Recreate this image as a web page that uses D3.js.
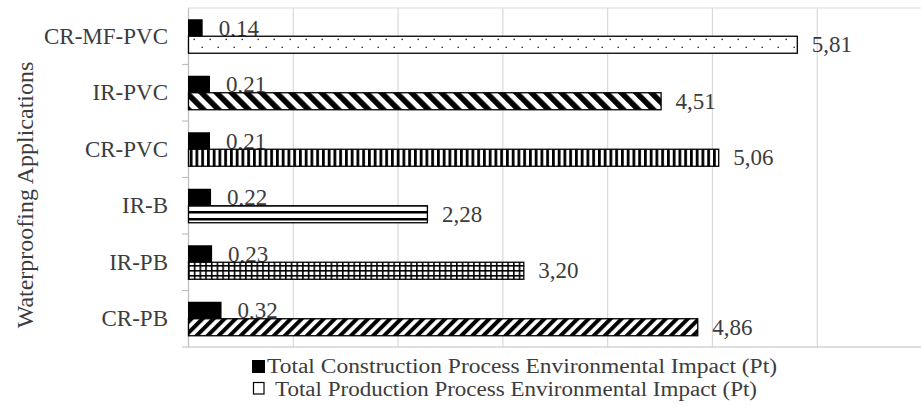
<!DOCTYPE html>
<html>
<head>
<meta charset="utf-8">
<script src="https://cdn.jsdelivr.net/npm/d3@7"></script>
<style>
  html, body { margin: 0; padding: 0; background: #fff; }
  svg { display: block; }
  text { font-family: "Liberation Serif", "Times New Roman", serif; }
</style>
</head>
<body>
<svg id="chart" width="921" height="406"></svg>
<script>
// ---- data ----
const categories = ["CR-MF-PVC", "IR-PVC", "CR-PVC", "IR-B", "IR-PB", "CR-PB"];
const construction = [0.14, 0.21, 0.21, 0.22, 0.23, 0.32];
const production = [5.81, 4.51, 5.06, 2.28, 3.20, 4.86];
const seriesNames = [
  "Total Construction Process Environmental Impact (Pt)",
  "Total Production Process Environmental Impact (Pt)"
];
const xTicks = [0, 1, 2, 3, 4, 5, 6, 7];
const yAxisTitle = "Waterproofing Applications";

// ---- styles (kept separate from data) ----
const patternIds = ["p-dots", "p-diagdown", "p-vert", "p-horiz", "p-grid", "p-diagup"];
const textColor = "#3c3c3c";
const fontSize = 23;

const svg = d3.select("#chart");
const plotLeft = 188, plotRight = 921.5, plotTop = 8, plotBottom = 347;
const x = d3.scaleLinear().domain([0, 7]).range([plotLeft, plotRight]);
const y = d3.scaleBand().domain(categories).range([plotTop, plotBottom]).padding(0);
const barH = 17;
const fmt = d3.formatLocale({ decimal: ",", thousands: ".", grouping: [3], currency: ["", ""] }).format(".2f");

// ---- patterns ----
const defs = svg.append("defs");
let p = defs.append("pattern").attr("id", "p-dots").attr("patternUnits", "userSpaceOnUse")
  .attr("width", 16).attr("height", 16);
p.append("rect").attr("width", 16).attr("height", 16).attr("fill", "#fff");
p.append("rect").attr("x", 1.5).attr("y", 6.7).attr("width", 1.4).attr("height", 1.4).attr("fill", "#222");
p.append("rect").attr("x", 9.5).attr("y", 14.7).attr("width", 1.4).attr("height", 1.4).attr("fill", "#222");

p = defs.append("pattern").attr("id", "p-diagdown").attr("patternUnits", "userSpaceOnUse")
  .attr("width", 10.6).attr("height", 10.6).attr("patternTransform", "rotate(-45)");
p.append("rect").attr("width", 10.6).attr("height", 10.6).attr("fill", "#fff");
p.append("rect").attr("width", 5.6).attr("height", 10.6).attr("fill", "#000");

p = defs.append("pattern").attr("id", "p-diagup").attr("patternUnits", "userSpaceOnUse")
  .attr("width", 7.8).attr("height", 7.8).attr("patternTransform", "rotate(45)");
p.append("rect").attr("width", 7.8).attr("height", 7.8).attr("fill", "#fff");
p.append("rect").attr("width", 4).attr("height", 7.8).attr("fill", "#000");

p = defs.append("pattern").attr("id", "p-vert").attr("patternUnits", "userSpaceOnUse")
  .attr("width", 5.75).attr("height", 10);
p.append("rect").attr("width", 5.75).attr("height", 10).attr("fill", "#fff");
p.append("rect").attr("width", 2.75).attr("height", 10).attr("fill", "#000");

p = defs.append("pattern").attr("id", "p-horiz").attr("patternUnits", "userSpaceOnUse")
  .attr("width", 10).attr("height", 7);
p.append("rect").attr("width", 10).attr("height", 7).attr("fill", "#fff");
p.append("rect").attr("y", 1).attr("width", 10).attr("height", 2.5).attr("fill", "#000");

p = defs.append("pattern").attr("id", "p-grid").attr("patternUnits", "userSpaceOnUse")
  .attr("width", 5.7).attr("height", 5);
p.append("rect").attr("width", 5.7).attr("height", 5).attr("fill", "#fff");
p.append("rect").attr("width", 1.6).attr("height", 5).attr("fill", "#000");
p.append("rect").attr("width", 5.7).attr("height", 1.6).attr("fill", "#000");

// ---- gridlines ----
svg.append("g")
  .attr("transform", `translate(0,${plotBottom})`)
  .call(d3.axisBottom(x).tickValues(xTicks).tickSize(-(plotBottom - plotTop)).tickFormat(""))
  .call(g => g.select(".domain").remove())
  .call(g => g.selectAll(".tick line").attr("stroke", "#d9d9d9").attr("stroke-width", 1.2));

svg.append("line").attr("x1", plotLeft).attr("x2", 921).attr("y1", plotTop).attr("y2", plotTop)
  .attr("stroke", "#d9d9d9").attr("stroke-width", 1.2);

svg.append("line").attr("x1", plotLeft - 6).attr("x2", 921).attr("y1", plotBottom).attr("y2", plotBottom)
  .attr("stroke", "#bfbfbf").attr("stroke-width", 1.2);

const yAxis = svg.append("g").attr("transform", `translate(${plotLeft},0)`)
  .call(d3.axisLeft(y).tickSize(0).tickPadding(20));
yAxis.select(".domain").attr("stroke", "#bfbfbf").attr("stroke-width", 1.2);
yAxis.selectAll(".tick text")
  .attr("font-family", "Liberation Serif, serif").attr("font-size", fontSize)
  .attr("fill", textColor).attr("dy", "0.33em");
svg.append("g").selectAll("line")
  .data(categories.slice(1))
  .join("line")
  .attr("x1", plotLeft - 6).attr("x2", plotLeft)
  .attr("y1", d => y(d)).attr("y2", d => y(d))
  .attr("stroke", "#bfbfbf").attr("stroke-width", 1.2);

// ---- construction value labels ----
svg.append("g").selectAll("text")
  .data(categories)
  .join("text")
  .attr("x", (d, i) => x(construction[i]) + 16)
  .attr("y", d => y(d) + y.bandwidth() / 2 - barH / 2 + 7.8)
  .attr("font-size", fontSize).attr("fill", textColor)
  .text((d, i) => fmt(construction[i]));

svg.append("g").selectAll("rect")
  .data(categories)
  .join("rect")
  .attr("x", x(0))
  .attr("y", d => y(d) + y.bandwidth() / 2 - barH)
  .attr("width", (d, i) => x(construction[i]) - x(0))
  .attr("height", barH)
  .attr("fill", "#000");

svg.append("g").selectAll("rect")
  .data(categories)
  .join("rect")
  .attr("x", x(0) + 0.5)
  .attr("y", d => y(d) + y.bandwidth() / 2)
  .attr("width", (d, i) => x(production[i]) - x(0))
  .attr("height", barH)
  .attr("fill", (d, i) => `url(#${patternIds[i]})`)
  .attr("stroke", "#000").attr("stroke-width", 1.3);

svg.append("g").selectAll("text")
  .data(categories)
  .join("text")
  .attr("x", (d, i) => x(production[i]) + 15)
  .attr("y", d => y(d) + y.bandwidth() / 2 + barH / 2 + 7.3)
  .attr("font-size", fontSize).attr("fill", textColor)
  .text((d, i) => fmt(production[i]));

// ---- y axis title ----
svg.append("text")
  .attr("transform", `translate(33,195) rotate(-90)`)
  .attr("text-anchor", "middle")
  .attr("font-size", 24).attr("fill", textColor)
  .text(yAxisTitle);

// ---- legend ----
const legend = svg.append("g");
legend.append("rect").attr("x", 252).attr("y", 360).attr("width", 13).attr("height", 13).attr("fill", "#000");
legend.append("text").attr("x", 267).attr("y", 373).attr("font-size", 20).attr("fill", textColor)
  .attr("textLength", 510).attr("lengthAdjust", "spacingAndGlyphs")
  .text(seriesNames[0]);
legend.append("rect").attr("x", 253.5).attr("y", 382.5).attr("width", 10.5).attr("height", 11.5)
  .attr("fill", "#fff").attr("stroke", "#000").attr("stroke-width", 1.2);
legend.append("text").attr("x", 275).attr("y", 395.5).attr("font-size", 20).attr("fill", textColor)
  .attr("textLength", 482).attr("lengthAdjust", "spacingAndGlyphs")
  .text(seriesNames[1]);
</script>
</body>
</html>
